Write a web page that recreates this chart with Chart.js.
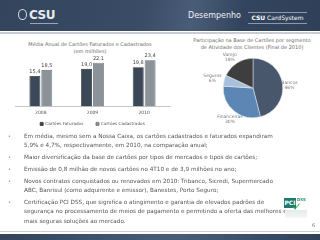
<!DOCTYPE html>
<html>
<head>
<meta charset="utf-8">
<script src="https://cdn.jsdelivr.net/npm/chart.js@4.4.0/dist/chart.umd.min.js"></script>
<style>
  html, body { margin: 0; padding: 0; }
  body { width: 320px; height: 240px; position: relative; overflow: hidden; background: #fff; font-family: "DejaVu Sans", sans-serif; }
  #header { position: absolute; left: 0; top: 0; width: 320px; height: 31px;
    background: linear-gradient(100deg, #33445c 0%, #3a4c66 45%, #4a5d78 60%, #33455e 75%, #2f4058 100%); }
  #hline { position: absolute; left: 0; top: 32px; width: 320px; height: 2px; background: #c9ccd1; }
  #logo { position: absolute; left: 18px; top: 8px; color: #e8ebef; font: bold 12px "DejaVu Sans", sans-serif; letter-spacing: -0.5px; }
  #logo .sym { display: inline-block; width: 7px; height: 9px; border: 1.5px solid #d9dde3; border-radius: 50%; margin-right: 2px; vertical-align: -1px; }
  #logo .sub { position: absolute; left: 12px; top: 15px; width: 28px; height: 1px; background: #9aa5b5; }
  #desemp { position: absolute; left: 188px; top: 11px; color: #eef1f5; font: 8px "DejaVu Sans", sans-serif; }
  #cardsys { position: absolute; left: 248px; top: 12px; width: 59px; height: 10px; border-top: 1px solid #8d99aa; border-bottom: 1px solid #8d99aa;
    color: #fff; font: 6px "DejaVu Sans", sans-serif; line-height: 10px; text-align: center; }
  #cardsys b { font-weight: bold; }
  .ttl { position: absolute; color: #6a6a6a; font: 5px "DejaVu Sans", sans-serif; text-align: center; line-height: 6.5px; }
  #bars { position: absolute; left: 0; top: 52px; }
  #pie { position: absolute; left: 190px; top: 52px; }
  #text { position: absolute; left: 0; top: 131.5px; width: 300px; color: #555; font: 5.7px "DejaVu Sans", sans-serif; white-space: nowrap; }
  #text p { margin: 0 0 2.9px 0; padding-left: 24px; position: relative; line-height: 9.2px; }
  #text p:before { content: "\2022"; position: absolute; left: 8px; top: 0; color: #888; font-size: 5px; }
  #pci { position: absolute; left: 284px; top: 197px; width: 30px; height: 24px; }
  #pci .box { position: absolute; left: 0; top: 1px; width: 12px; height: 10px; background: #1f7a6e; color: #fff; font: bold 6px "DejaVu Sans", sans-serif; line-height: 10px; text-align: center; }
  #pci .dss { position: absolute; left: 13px; top: 0; color: #2a8a7c; font: bold 4px "DejaVu Sans", sans-serif; }
  #pci .chk { position: absolute; left: 10px; top: 5px; width: 3px; height: 6px; border-right: 1.5px solid #3cb54a; border-bottom: 1.5px solid #3cb54a; transform: rotate(40deg); }
  #pci .ft { position: absolute; left: 1px; top: 13px; width: 22px; height: 8px; background: linear-gradient(#e4ece9, #f4f7f6); }
  #pgn { position: absolute; left: 312px; top: 222px; color: #777; font: 5px "DejaVu Sans", sans-serif; }
  #fline { position: absolute; left: 0; top: 231px; width: 320px; height: 1px; background: #c9ccd1; }
  #footer { position: absolute; left: 0; top: 234px; width: 320px; height: 6px; background: linear-gradient(100deg, #33445c, #4a5d78 55%, #2f4058); }
</style>
</head>
<body>
<div id="header"></div>
<div id="hline"></div>
<div id="logo"><span class="sym"></span>CSU<span class="sub"></span></div>
<div id="desemp">Desempenho</div>
<div id="cardsys"><b>CSU</b> CardSystem</div>

<div class="ttl" style="left:20px; top:41px; width:140px;">Média Anual de Cartões Faturados e Cadastrados<br>(em milhões)</div>
<div class="ttl" style="left:190px; top:37px; width:124px;">Participação na Base de Cartões por segmento<br>de Atividade dos Clientes (Final de 2010)</div>

<canvas id="bars" width="180" height="84"></canvas>
<canvas id="pie" width="130" height="78"></canvas>

<div id="text">
  <p>Em média, mesmo sem a Nossa Caixa, os cartões cadastrados e faturados expandiram<br>5,9% e 4,7%, respectivamente, em 2010, na comparação anual;</p>
  <p>Maior diversificação da base de cartões por tipos de mercados e tipos de cartões;</p>
  <p>Emissão de 0,8 milhão de novos cartões no 4T10 e de 3,9 milhões no ano;</p>
  <p>Novos contratos conquistados ou renovados em 2010: Tribanco, Sicredi, Supermercado<br>ABC, Banrisul (como adquirente e emissor), Banestes, Porto Seguro;</p>
  <p>Certificação PCI DSS, que significa o atingimento e garantia de elevados padrões de<br>segurança no processamento de meios de pagamento e permitindo a oferta das melhores e<br>mais seguras soluções ao mercado.</p>
</div>

<div id="pci"><div class="box">PCI</div><div class="chk"></div><div class="dss">DSS</div><div class="ft"></div></div>
<div id="pgn">6</div>
<div id="fline"></div>
<div id="footer"></div>

<script>
// --- Data ---
const years = ['2008', '2009', '2010'];
const faturados = [15.4, 19.0, 19.8];
const cadastrados = [18.5, 22.1, 23.4];

const segmentos = ['Bancos', 'Financeiras', 'Seguros', 'Varejo'];
const participacao = [46, 30, 6, 18];

const fmt = v => v.toFixed(1).replace('.', ',');

// value labels above the bars
const barValues = {
  id: 'barValues',
  afterDatasetsDraw(chart) {
    const ctx = chart.ctx;
    ctx.save();
    ctx.font = '5px "DejaVu Sans"';
    ctx.fillStyle = '#444';
    ctx.textAlign = 'center';
    ctx.textBaseline = 'bottom';
    chart.data.datasets.forEach((ds, i) => {
      chart.getDatasetMeta(i).data.forEach((bar, j) => {
        ctx.fillText(fmt(ds.data[j]), bar.x, bar.y - 2);
      });
    });
    ctx.restore();
  }
};

// outside labels for the pie
const pieLabels = {
  id: 'pieLabels',
  afterDatasetsDraw(chart, args, opts) {
    const ctx = chart.ctx;
    const meta = chart.getDatasetMeta(0);
    ctx.save();
    ctx.font = '4.5px "DejaVu Sans"';
    ctx.fillStyle = '#777';
    ctx.textAlign = 'center';
    ctx.textBaseline = 'middle';
    meta.data.forEach((arc, i) => {
      const mid = (arc.startAngle + arc.endAngle) / 2;
      const r = arc.outerRadius + opts.gap;
      const nudge = opts.nudge[i] || [0, 0];
      const x = arc.x + Math.cos(mid) * r + nudge[0];
      const y = arc.y + Math.sin(mid) * r + nudge[1];
      ctx.fillText(chart.data.labels[i], x, y - 2.5);
      ctx.fillText(chart.data.datasets[0].data[i] + '%', x, y + 2.5);
    });
    ctx.restore();
  }
};

new Chart(document.getElementById('bars'), {
  type: 'bar',
  data: {
    labels: years,
    datasets: [
      { label: 'Cartões Faturados', data: faturados, backgroundColor: '#3c4757', borderColor: '#27303c', borderWidth: 0.8 },
      { label: 'Cartões Cadastrados', data: cadastrados, backgroundColor: '#8c9299', borderColor: '#6b7179', borderWidth: 0.8 }
    ]
  },
  options: {
    responsive: false,
    animation: false,
    layout: { padding: { left: 15, right: 10, top: 5, bottom: 0 } },
    datasets: { bar: { categoryPercentage: 0.46, barPercentage: 0.92 } },
    scales: {
      x: {
        grid: { display: false, drawTicks: false },
        border: { color: '#c8c8c8' },
        ticks: { color: '#555', font: { family: 'DejaVu Sans', size: 4.5 }, padding: 4 }
      },
      y: { display: false, min: 0, max: 25 }
    },
    plugins: {
      legend: {
        position: 'bottom',
        labels: { boxWidth: 3, boxHeight: 3, padding: 2, color: '#555', font: { family: 'DejaVu Sans', size: 4.2 },
          generateLabels: chart => Chart.defaults.plugins.legend.labels.generateLabels(chart).map((l, i) => Object.assign(l, { text: l.text + (i === 0 ? '        ' : '') })) }
      },
      tooltip: { enabled: false }
    }
  },
  plugins: [barValues]
});

new Chart(document.getElementById('pie'), {
  type: 'pie',
  data: {
    labels: segmentos,
    datasets: [{
      data: participacao,
      backgroundColor: ['#48576c', '#5c87b4', '#a7c1dd', '#3e3e3e'],
      borderColor: '#e6ebf0',
      borderWidth: 0.5
    }]
  },
  options: {
    responsive: false,
    animation: false,
    layout: { padding: { left: 0, right: 4, top: 6, bottom: 12 } },
    plugins: {
      legend: { display: false },
      tooltip: { enabled: false },
      pieLabels: { gap: 8, nudge: [[-1, 2], [1, 2], [-4, 0], [-3, 1]] }
    }
  },
  plugins: [pieLabels]
});
</script>
</body>
</html>
